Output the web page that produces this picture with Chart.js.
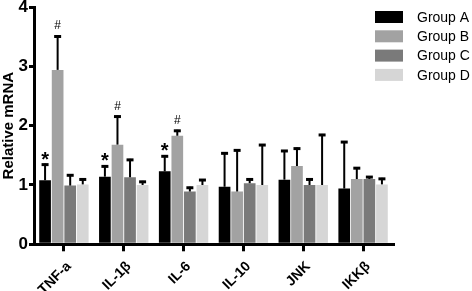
<!DOCTYPE html>
<html>
<head>
<meta charset="utf-8">
<script src="https://cdn.jsdelivr.net/npm/chart.js@4.4.1/dist/chart.umd.min.js"></script>
<style>
  html, body { margin: 0; padding: 0; background: #fff; }
  #wrap { width: 472px; height: 291px; }
</style>
</head>
<body>
<div id="wrap"><canvas id="myChart" width="472" height="291"></canvas></div>
<script>
var categories = ['TNF-a', 'IL-1β', 'IL-6', 'IL-10', 'JNK', 'IKKβ'];
var groupNames = ['Group A', 'Group B', 'Group C', 'Group D'];
var groupColors = ['#000000', '#a2a2a2', '#7a7a7a', '#d6d6d6'];

// mean values
var groupA = [1.08, 1.14, 1.23, 0.97, 1.09, 0.94];
var groupB = [2.94, 1.68, 1.83, 0.89, 1.32, 1.10];
var groupC = [0.99, 1.13, 0.89, 1.03, 1.00, 1.10];
var groupD = [1.01, 1.00, 1.00, 1.00, 1.00, 1.01];

// upper error (SD)
var errA = [0.28, 0.19, 0.27, 0.58, 0.50, 0.80];
var errB = [0.58, 0.49, 0.10, 0.71, 0.31, 0.20];
var errC = [0.19, 0.31, 0.08, 0.08, 0.11, 0.05];
var errD = [0.10, 0.07, 0.10, 0.69, 0.86, 0.11];

// significance marks: '*' over Group A, '#' over Group B
var starA = [true, true, true, false, false, false];
var hashB = [true, true, true, false, false, false];

var yTicks = [0, 1, 2, 3, 4];

var font = '"Liberation Sans", Arial, Helvetica, sans-serif';
var values = [groupA, groupB, groupC, groupD];
var errors = [errA, errB, errC, errD];

var errorBars = {
    id: 'errorBars',
    afterDatasetsDraw: function(chart) {
        var ctx = chart.ctx;
        var y = chart.scales.y;
        ctx.save();
        ctx.strokeStyle = '#000';
        for (var d = 0; d < values.length; d++) {
            var meta = chart.getDatasetMeta(d);
            meta.data.forEach(function(bar, i) {
                var top = y.getPixelForValue(values[d][i] + errors[d][i]);
                ctx.lineWidth = 2;
                ctx.beginPath();
                ctx.moveTo(bar.x, bar.y);
                ctx.lineTo(bar.x, top);
                ctx.stroke();
                ctx.lineWidth = 3;
                ctx.beginPath();
                ctx.moveTo(bar.x - 3.5, top + 1);
                ctx.lineTo(bar.x + 3.5, top + 1);
                ctx.stroke();

                ctx.fillStyle = '#000';
                ctx.textAlign = 'center';
                ctx.textBaseline = 'alphabetic';
                if (d === 0 && starA[i]) {
                    ctx.font = 'bold 20px ' + font;
                    ctx.fillText('*', bar.x, top + 2);
                }
                if (d === 1 && hashB[i]) {
                    ctx.font = '12px ' + font;
                    ctx.fillText('#', bar.x, top - 6);
                }
            });
        }
        ctx.restore();
    }
};

var sideLegend = {
    id: 'sideLegend',
    afterDraw: function(chart) {
        var ctx = chart.ctx;
        ctx.save();
        ctx.font = '14px ' + font;
        ctx.textBaseline = 'middle';
        ctx.textAlign = 'left';
        chart.data.datasets.forEach(function(ds, i) {
            var cy = 17 + i * 19.3;
            ctx.fillStyle = ds.backgroundColor;
            ctx.fillRect(375, cy - 6, 28, 12);
            ctx.fillStyle = '#000';
            ctx.fillText(ds.label, 417, cy + 1);
        });
        ctx.restore();
    }
};

var ctx = document.getElementById('myChart').getContext('2d');
var myChart = new Chart(ctx, {
    type: 'bar',
    data: {
        labels: categories,
        datasets: values.map(function(v, i) {
            return {
                label: groupNames[i],
                data: v,
                backgroundColor: groupColors[i],
                categoryPercentage: 0.84,
                barPercentage: 0.93
            };
        })
    },
    options: {
        responsive: false,
        animation: false,
        layout: { padding: { top: 7, right: 79, left: 0, bottom: 0 } },
        plugins: {
            legend: { display: false },
            tooltip: { enabled: false }
        },
        scales: {
            x: {
                afterFit: function(s) {
                    s.height = 46.7;
                    s.paddingLeft = 0;
                    s.paddingRight = 0;
                },
                border: { display: true, color: '#000', width: 3 },
                grid: { offset: false, drawOnChartArea: false, color: '#000', lineWidth: 3, tickLength: 7 },
                ticks: {
                    color: '#000',
                    minRotation: 45,
                    maxRotation: 45,
                    padding: 7,
                    labelOffset: 5,
                    font: { family: font, size: 14, weight: 'bold' }
                }
            },
            y: {
                min: 0,
                max: 4,
                afterFit: function(s) {
                    s.width = 34;
                    s.paddingTop = 0;
                    s.paddingBottom = 0;
                },
                afterBuildTicks: function(s) { s.ticks = yTicks.map(function(v) { return { value: v }; }); },
                border: { display: true, color: '#000', width: 3 },
                grid: { drawOnChartArea: false, color: '#000', lineWidth: 3, tickLength: 5 },
                ticks: {
                    color: '#000',
                    padding: 1,
                    font: { family: font, size: 17, weight: 'bold' }
                },
                title: {
                    display: true,
                    text: 'Relative mRNA',
                    color: '#000',
                    padding: 0,
                    font: { family: font, size: 15, weight: 'bold' }
                }
            }
        }
    },
    plugins: [errorBars, sideLegend]
});
</script>
</body>
</html>
